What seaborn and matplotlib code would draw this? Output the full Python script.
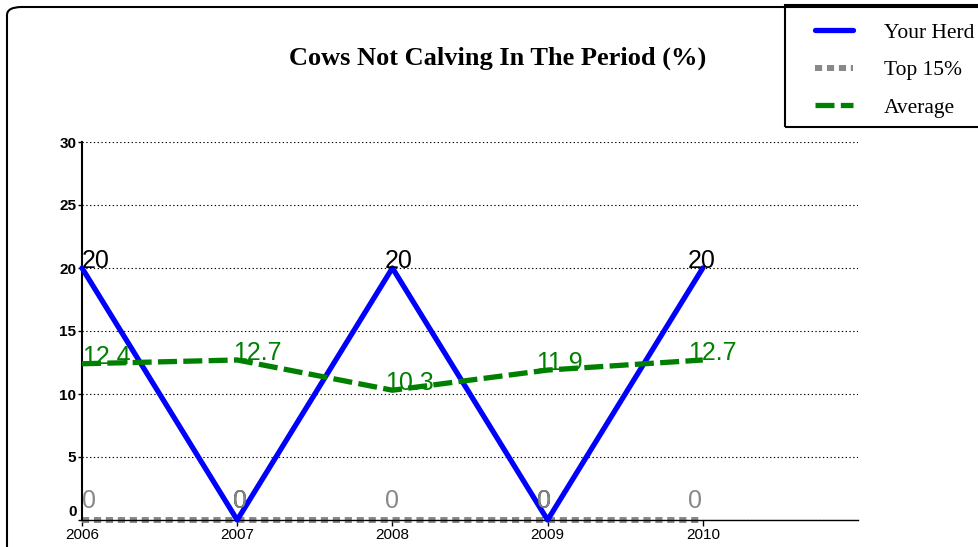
import matplotlib
matplotlib.use('Agg')
import matplotlib.pyplot as plt
import matplotlib.transforms as mtransforms
import seaborn as sns
import pandas as pd
from matplotlib.patches import FancyBboxPatch, Rectangle

# Dữ liệu
years = [2006, 2007, 2008, 2009, 2010]
your_herd = [20, 0, 20, 0, 20]
top_15 = [0, 0, 0, 0, 0]
average = [12.4, 12.7, 10.3, 11.9, 12.7]
y_ticks = [0, 5, 10, 15, 20, 25, 30]

sns.set_theme(style='white')
plt.rcParams['font.family'] = ['Liberation Sans', 'DejaVu Sans']

df = pd.DataFrame({'Year': years, 'Your Herd': your_herd,
                   'Top 15%': top_15, 'Average': average})

fig = plt.figure(figsize=(9.79, 5.47), dpi=100)
ax = fig.add_axes([82 / 979, 1 - 520 / 547, (858 - 82) / 979, (520 - 142) / 547])

# Khung viền bo góc bên ngoài
frame = FancyBboxPatch((7 / 979, -0.05), 1.05, 1 - 7 / 547 + 0.05,
                       boxstyle='round,pad=0,rounding_size=0.015',
                       transform=fig.transFigure, fill=False,
                       edgecolor='black', linewidth=1.5, clip_on=False)
fig.patches.append(frame)

# (tên, màu, kiểu nét, dashes, độ dày, zorder)
series = [
    ('Your Herd', 'blue', '-', None, 3.8, 3),
    ('Top 15%', '#888888', '--', (1.2, 0.8), 4.3, 2),
    ('Average', 'green', '--', (3.6, 1.2), 3.8, 3),
]
handles = []
for name, color, ls, dash, lw, z in series:
    sns.lineplot(data=df, x='Year', y=name, ax=ax, color=color, linewidth=lw,
                 linestyle=ls, label=name, legend=False, zorder=z)
    line = ax.get_lines()[-1]
    if dash is not None:
        line.set_dashes(dash)
    line.set_clip_on(False)
    handles.append(line)

# Nhãn giá trị
for name, color, _, _, _, _ in series:
    txt_color = 'black' if name == 'Your Herd' else color
    for i, (x, y) in enumerate(zip(df['Year'], df[name])):
        dy = 12 if y == 0 else 0
        off = mtransforms.offset_copy(ax.transData, fig=fig, x=-3.7 * i * 0.72,
                                      y=dy * 0.72, units='points')
        ax.text(x, y, f'{y:g}', color=txt_color, fontsize=18,
                ha='left', va='baseline', zorder=4, transform=off)

ax.set_xlim(2006, 2011)
ax.set_ylim(0, 30)
ax.set_xticks(years)
ax.set_xticklabels([str(y) for y in years], fontsize=11, color='black')
ax.set_yticks(y_ticks)
ax.set_yticklabels([str(t) for t in y_ticks], fontsize=11, fontweight='bold',
                   color='black')
ax.set_xlabel('')
ax.set_ylabel('')
ax.grid(axis='y', color='black', linestyle=(0, (1.2, 2.2)), linewidth=0.8)
for s in ['top', 'right']:
    ax.spines[s].set_visible(False)
ax.spines['left'].set_color('black')
ax.spines['left'].set_linewidth(1.5)
ax.spines['bottom'].set_color('black')
ax.spines['bottom'].set_linewidth(1.0)
ax.tick_params(axis='y', left=True, length=3, width=1, pad=1, colors='black')
ax.tick_params(axis='x', bottom=True, length=4, width=1, pad=2, colors='black')

# nhãn "0" của trục y nằm cao hơn vạch một chút
lbl0 = ax.get_yticklabels()[0]
lbl0.set_transform(lbl0.get_transform() +
                   mtransforms.ScaledTranslation(0, 9 / 100, fig.dpi_scale_trans))

fig.text(498 / 979, 1 - 58 / 547, 'Cows Not Calving In The Period (%)',
         family=['Liberation Serif', 'DejaVu Serif'], fontweight='bold',
         fontsize=19, color='black', ha='center', va='center')

# Chú thích: khung vẽ riêng, chú thích không khung
legend_frame = Rectangle((785 / 979, 1 - 127 / 547), 0.3, (127 - 5) / 547,
                         transform=fig.transFigure, fill=False,
                         edgecolor='black', linewidth=1.5, clip_on=False)
fig.patches.append(legend_frame)
leg = fig.legend(handles=handles, labels=[s[0] for s in series],
                 loc='upper left', bbox_to_anchor=(815 / 979, 1 - 22.5 / 547),
                 frameon=False,
                 prop={'family': ['Liberation Serif', 'DejaVu Serif'], 'size': 15.5},
                 handlelength=1.77, handletextpad=1.44, labelspacing=0.82,
                 borderpad=0, borderaxespad=0)
for t in leg.get_texts():
    t.set_color('black')

fig.savefig('out.png', dpi=100)
